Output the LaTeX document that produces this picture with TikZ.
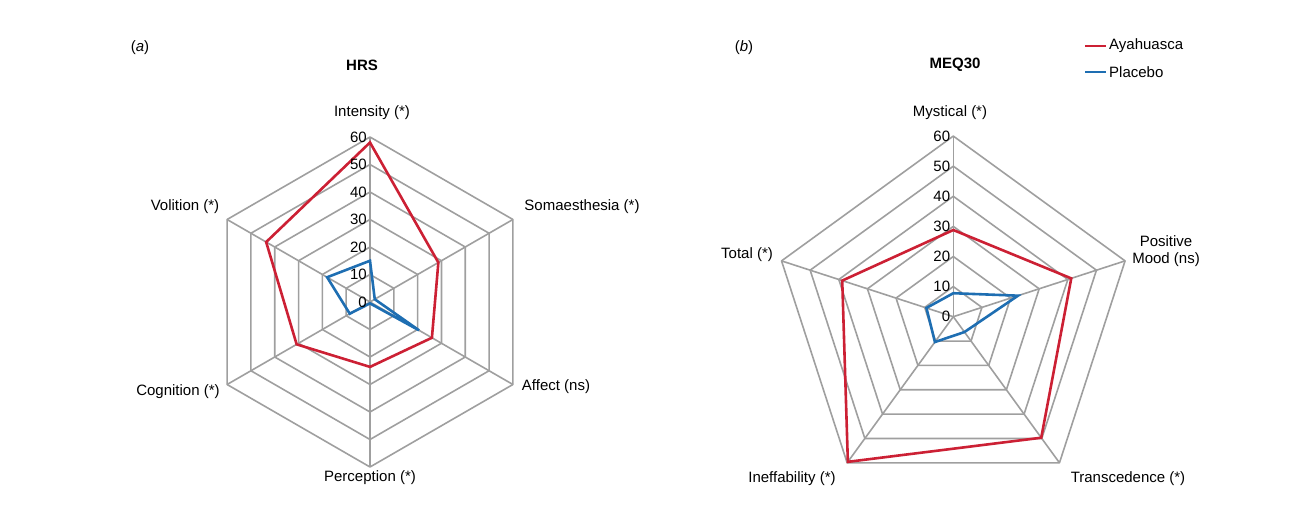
\documentclass[tikz,border=0pt]{standalone}
\usetikzlibrary{calc}
\usepackage{fontspec}
\setmainfont{Liberation Sans}
\begin{document}
\begin{tikzpicture}[x=1pt,y=-1pt,
  grid/.style={draw=gray!75,line width=1.6pt,line join=round},
  aya/.style={draw={rgb,255:red,204;green,32;blue,52},line width=2.6pt,line join=miter},
  pla/.style={draw={rgb,255:red,30;green,110;blue,178},line width=2.6pt,line join=miter},
  lab/.style={font=\fontsize{15}{17}\selectfont,inner sep=0pt},
  tick/.style={font=\fontsize{15}{17}\selectfont,inner sep=0pt,anchor=east}]
\useasboundingbox (0,0) rectangle (1316,510);
% ---------- HRS (hexagon) ----------
\coordinate (A) at (370,302);
\begin{scope}[shift={(A)}]
\foreach \r in {1,...,6}{
  \draw[grid] (-90:{27.5*\r}) \foreach \k in {1,...,5}{ -- ({-90+60*\k}:{27.5*\r})} -- cycle;}
\foreach \k in {0,...,5}{ \draw[grid] (0,0) -- ({-90+60*\k}:165);}
\draw[aya] (-90:{2.75*58}) \foreach \v [count=\k] in {28.7,26,23.6,30.8,43.6}{ -- ({-90+60*\k}:{2.75*\v})} -- cycle;
\draw[pla] (-90:{2.75*15}) \foreach \v [count=\k] in {2,20.6,0.5,8.5,18}{ -- ({-90+60*\k}:{2.75*\v})} -- cycle;
\end{scope}
\foreach \v/\n in {0/0,10/1,20/2,30/3,40/4,50/5,60/6}{
  \node[tick] (ta\n) at ($(A)+(-3,{-2.75*\v})$) {\v};}
\node[lab] (pa) at (140,48) {(\textit{a})};
\node[lab,font=\fontsize{15}{17}\selectfont\bfseries] (ha) at (362,65) {HRS};
\node[lab] (a1) at (372,113) {Intensity (*)};
\node[lab] (a2) at (582,207) {Somaesthesia (*)};
\node[lab] (a3) at (556,387) {Affect (ns)};
\node[lab] (a4) at (370,478) {Perception (*)};
\node[lab] (a5) at (178,392) {Cognition (*)};
\node[lab] (a6) at (185,207) {Volition (*)};
% ---------- MEQ30 (pentagon) ----------
\coordinate (B) at (953.3,316.7);
\begin{scope}[shift={(B)}]
\foreach \r in {1,...,6}{
  \draw[grid] (-90:{30.1*\r}) \foreach \k in {1,...,4}{ -- ({-90+72*\k}:{30.1*\r})} -- cycle;}
\foreach \k in {0,...,4}{ \draw[grid] (0,0) -- ({-90+72*\k}:180.6);}
\draw[aya] (-90:{3.01*28.8}) \foreach \v [count=\k] in {41.2,49.7,59.6,38.8}{ -- ({-90+72*\k}:{3.01*\v})} -- cycle;
\draw[pla] (-90:{3.01*7.8}) \foreach \v [count=\k] in {22.6,6.3,10.4,9.4}{ -- ({-90+72*\k}:{3.01*\v})} -- cycle;
\end{scope}
\foreach \v/\n in {0/0,10/1,20/2,30/3,40/4,50/5,60/6}{
  \node[tick] (tb\n) at ($(B)+(-3,{-3.01*\v})$) {\v};}
\node[lab] (pb) at (744,48) {(\textit{b})};
\node[lab,font=\fontsize{15}{17}\selectfont\bfseries] (hb) at (955,65) {MEQ30};
\node[lab] (b1) at (950,113) {Mystical (*)};
\node[lab,align=center] (b2) at (1166,251) {Positive\\Mood (ns)};
\node[lab] (b3) at (1128,479) {Transcedence (*)};
\node[lab] (b4) at (792,479) {Ineffability (*)};
\node[lab] (b5) at (747,255) {Total (*)};
% legend
\coordinate (l1a) at (1085,46); \coordinate (l1b) at (1106,46);
\coordinate (l2a) at (1085,72); \coordinate (l2b) at (1106,72);
\draw[aya] (l1a) -- (l1b);
\draw[pla] (l2a) -- (l2b);
\node[lab,anchor=west] (lg1) at (1109,46) {Ayahuasca};
\node[lab,anchor=west] (lg2) at (1109,72) {Placebo};
\end{tikzpicture}
\end{document}
